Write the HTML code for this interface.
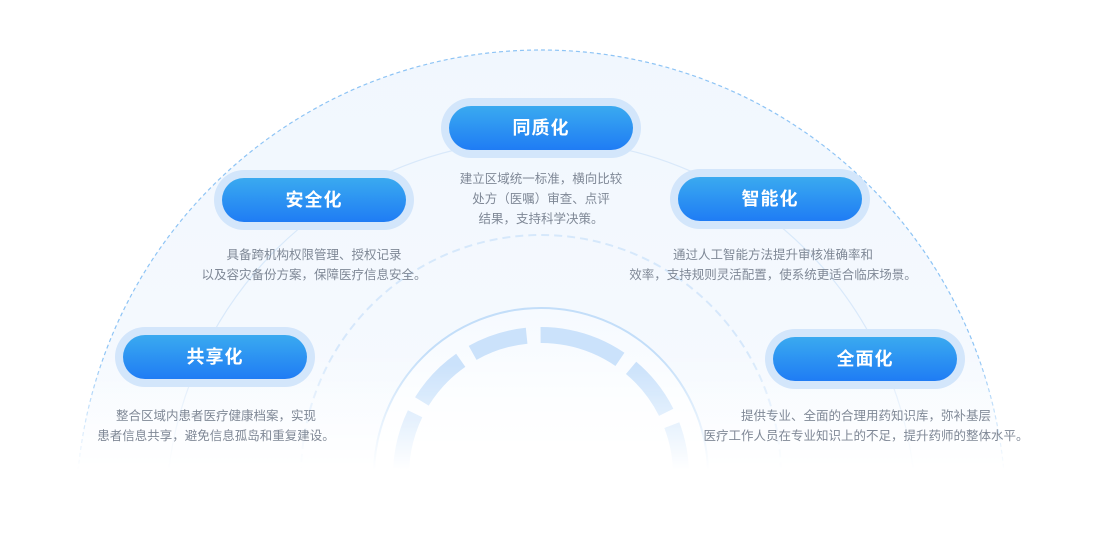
<!DOCTYPE html>
<html><head><meta charset="utf-8"><style>
*{margin:0;padding:0;box-sizing:border-box}
html,body{width:1100px;height:534px;overflow:hidden}
body{background:#fff;position:relative;font-family:"Liberation Sans","Noto Sans CJK SC",sans-serif}
svg{position:absolute;left:0;top:0}
.pill{position:absolute;width:200px;height:60px;border-radius:30px;background:#d3e6fb;padding:8px}
.pill div{width:184px;height:44px;border-radius:22px;background:linear-gradient(180deg,#3aaaf0,#1f7cf4);color:#fff;font-size:18px;font-weight:bold;text-align:center;line-height:44px;letter-spacing:1px}
.t{position:absolute;font-size:12.5px;color:#7f8896;line-height:20px;text-align:center;white-space:nowrap;transform:translateX(-50%)}
</style></head><body>
<svg width="1100" height="534" viewBox="0 0 1100 534">
<defs>
<linearGradient id="bg" x1="0" y1="0" x2="0" y2="1"><stop offset="0" stop-color="#f1f7fe"/><stop offset="0.6" stop-color="#f8fbff"/><stop offset="1" stop-color="#fff"/></linearGradient>
<linearGradient id="fade" x1="0" y1="0" x2="0" y2="1"><stop offset="0" stop-color="#fff"/><stop offset="0.75" stop-color="#fff"/><stop offset="1" stop-color="#000"/></linearGradient>
<mask id="m"><rect x="0" y="0" width="1100" height="470" fill="url(#fade)"/></mask>
<linearGradient id="rf" gradientUnits="userSpaceOnUse" x1="0" y1="320" x2="0" y2="470"><stop offset="0" stop-color="#fff"/><stop offset="0.3" stop-color="#fff"/><stop offset="1" stop-color="#000"/></linearGradient>
<mask id="m2"><rect x="300" y="300" width="500" height="200" fill="url(#rf)"/></mask>
<linearGradient id="inner" x1="0" y1="0" x2="0" y2="1"><stop offset="0" stop-color="#f6faff"/><stop offset="0.5" stop-color="#fff"/></linearGradient>
</defs>
<g mask="url(#m)">
<circle cx="541" cy="515" r="465" fill="url(#bg)"/>
<circle cx="541" cy="515" r="465" fill="none" stroke="#8ec4f5" stroke-width="1.2" stroke-dasharray="4 3"/>
<circle cx="541" cy="515" r="375" fill="none" stroke="#d9e9fa" stroke-width="1.2"/>
<circle cx="541" cy="475" r="240" fill="none" stroke="#d6e8fb" stroke-width="2" stroke-dasharray="8 5"/>
<circle cx="541" cy="475" r="167" fill="url(#inner)" stroke="#c3def9" stroke-width="2"/>
</g>
<g mask="url(#m2)">
<circle cx="541" cy="475" r="140" fill="none" stroke="#cbe2fb" stroke-width="16" stroke-dasharray="57 14" transform="rotate(-79 541 475)"/>
</g>
</svg>
<div class="pill" style="left:441px;top:98px"><div>同质化</div></div>
<div class="pill" style="left:214px;top:170px"><div>安全化</div></div>
<div class="pill" style="left:670px;top:169px"><div>智能化</div></div>
<div class="pill" style="left:115px;top:327px"><div>共享化</div></div>
<div class="pill" style="left:765px;top:329px"><div>全面化</div></div>
<div class="t" style="left:541px;top:169px">建立区域统一标准，横向比较<br>处方（医嘱）审查、点评<br>结果，支持科学决策。</div>
<div class="t" style="left:314px;top:245px">具备跨机构权限管理、授权记录<br>以及容灾备份方案，保障医疗信息安全。</div>
<div class="t" style="left:773px;top:245px">通过人工智能方法提升审核准确率和<br>效率，支持规则灵活配置，使系统更适合临床场景。</div>
<div class="t" style="left:216px;top:406px">整合区域内患者医疗健康档案，实现<br>患者信息共享，避免信息孤岛和重复建设。</div>
<div class="t" style="left:866px;top:406px">提供专业、全面的合理用药知识库，弥补基层<br>医疗工作人员在专业知识上的不足，提升药师的整体水平。</div>
</body></html>
